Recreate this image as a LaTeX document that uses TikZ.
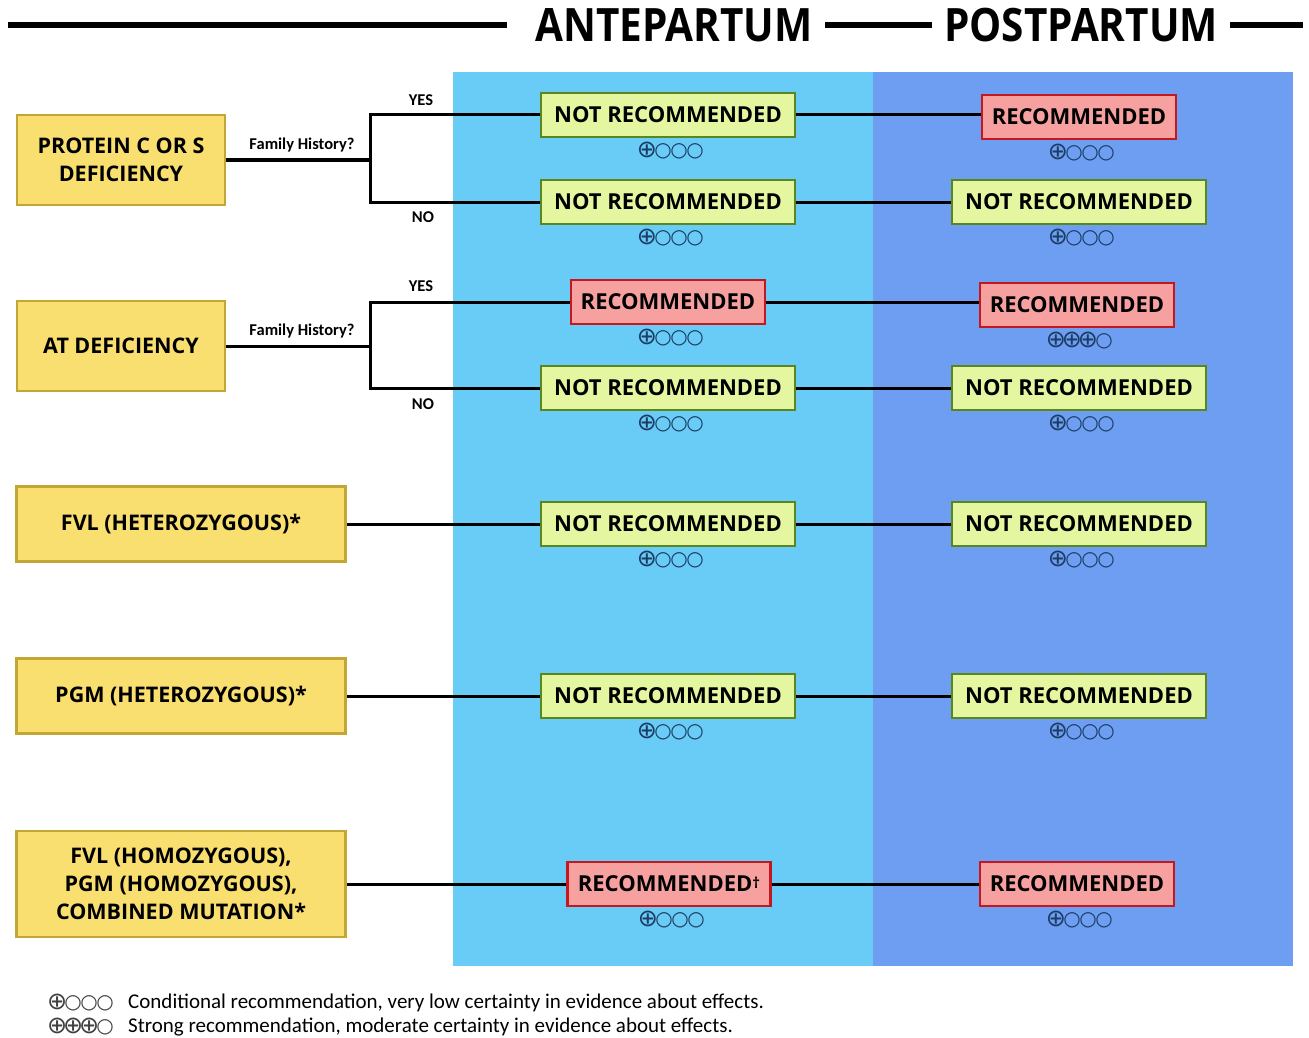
\documentclass[tikz,border=0pt]{standalone}
\usepackage{fontspec}
\setmainfont{Carlito}
\newfontfamily\labelfont{Open Sans}
\newfontfamily\symfont{DejaVu Sans}
\usetikzlibrary{positioning}

\definecolor{antefill}{RGB}{104,204,246}
\definecolor{postfill}{RGB}{110,158,242}
\definecolor{yfill}{RGB}{249,222,112}
\definecolor{yborder}{RGB}{196,166,52}
\definecolor{gfill}{RGB}{228,247,160}
\definecolor{gborder}{RGB}{90,134,30}
\definecolor{rfill}{RGB}{246,160,160}
\definecolor{rborder}{RGB}{196,24,32}
\definecolor{gradeblue}{RGB}{28,60,100}

% grade glyphs
\newcommand{\gplus}{\makebox[16pt][c]{\raisebox{-1pt}{\fontsize{24}{20}\selectfont ⊕}}}
\newcommand{\gnone}{\makebox[16pt][c]{\fontsize{20}{20}\selectfont ○}}

\begin{document}
\begin{tikzpicture}[x=1pt,y=-1pt,
    cond/.style={draw=yborder,fill=yfill,line width=2.5pt,align=center,inner sep=0pt,
      font=\labelfont\bfseries\fontsize{21.5}{28}\selectfont},
    notrec/.style={draw=gborder,fill=gfill,line width=2.5pt,inner sep=0pt,
      minimum width=254,minimum height=44,font=\labelfont\bfseries\fontsize{22}{21}\selectfont},
    rec/.style={draw=rborder,fill=rfill,line width=2.5pt,inner sep=0pt,
      minimum width=194,minimum height=44,font=\labelfont\bfseries\fontsize{22}{21}\selectfont},
    grade/.style={text=gradeblue,inner sep=0pt,font=\symfont},
    link/.style={line width=3pt,black},
    ask/.style={inner sep=0pt,font=\bfseries\fontsize{16.5}{16}\selectfont},
    head/.style={inner sep=12pt,font=\labelfont\bfseries\fontsize{46}{46}\selectfont}]
  \useasboundingbox (0,0) rectangle (1309,1038);
  % columns
  \fill[antefill] (453,72) rectangle (873,966);
  \fill[postfill] (873,72) rectangle (1293,966);
  % header
  \node[head] (ante) at (674,25) {\scalebox{0.88}[1]{ANTEPARTUM}};
  \node[head] (post) at (1081,25) {\scalebox{0.88}[1]{POSTPARTUM}};
  \coordinate (hl) at (8,25);
  \coordinate (hr) at (1303,25);
  \draw[line width=6pt] (hl) -- ([xshift=-16pt]ante.west);
  \draw[line width=6pt] (ante.east) -- (post.west);
  \draw[line width=6pt] (post.east) -- (hr);

  % conditions
  \node[cond,minimum width=208,minimum height=90] (pcs) at (121,160) {PROTEIN C OR S\\DEFICIENCY};
  \node[cond,minimum width=208,minimum height=90] (atd) at (121,346) {AT DEFICIENCY};
  \node[cond,minimum width=329,minimum height=75] (fvlhet) at (181,524) {FVL (HETEROZYGOUS)*};
  \node[cond,minimum width=329,minimum height=75] (pgmhet) at (181,696) {PGM (HETEROZYGOUS)*};
  \node[cond,minimum width=329,minimum height=106] (homo) at (181,884) {FVL (HOMOZYGOUS),\\PGM (HOMOZYGOUS),\\COMBINED MUTATION*};

  % antepartum
  \node[notrec] (a1) at (668,115) {NOT RECOMMENDED};
  \node[notrec] (a2) at (668,202) {NOT RECOMMENDED};
  \node[rec] (a3) at (668,302) {RECOMMENDED};
  \node[notrec] (a4) at (668,388) {NOT RECOMMENDED};
  \node[notrec] (a5) at (668,524) {NOT RECOMMENDED};
  \node[notrec] (a6) at (668,696) {NOT RECOMMENDED};
  \node[rec,minimum width=203] (a7) at (669,884) {RECOMMENDED\raisebox{0.3ex}{\fontsize{15}{15}\selectfont†}};

  % postpartum
  \node[rec] (p1) at (1079,117) {RECOMMENDED};
  \node[notrec] (p2) at (1079,202) {NOT RECOMMENDED};
  \node[rec] (p3) at (1077,305) {RECOMMENDED};
  \node[notrec] (p4) at (1079,388) {NOT RECOMMENDED};
  \node[notrec] (p5) at (1079,524) {NOT RECOMMENDED};
  \node[notrec] (p6) at (1079,696) {NOT RECOMMENDED};
  \node[rec] (p7) at (1077,884) {RECOMMENDED};

  % grades
  \foreach \n in {a1,a2,a3,a4,a5,a6,a7,p1,p2,p4,p5,p6,p7}
    \node[grade,below=4pt of \n,xshift=3pt] (g\n) {\gplus\gnone\gnone\gnone};
  \node[grade,below=4pt of p3,xshift=3pt] (gp3) {\gplus\gplus\gplus\gnone};

  % family history forks
  \coordinate (f1) at (370,160);
  \coordinate (f2) at (370,346);
  \draw[link] (pcs.east) -- (f1);
  \draw[link] (a1.west) -| (f1) |- (a2.west);
  \draw[link] (atd.east) -- (f2);
  \draw[link] (a3.west) -| (f2) |- (a4.west);
  \node[ask] (fh1) at (302,145) {Family History?};
  \node[ask] (fh2) at (302,331) {Family History?};
  \node[ask] (yes1) at (421,100) {YES};
  \node[ask] (no1) at (423,217) {NO};
  \node[ask] (yes2) at (421,286) {YES};
  \node[ask] (no2) at (423,404) {NO};

  % straight links
  \draw[link] (fvlhet.east) -- (a5.west);
  \draw[link] (pgmhet.east) -- (a6.west);
  \draw[link] (homo.east) -- (a7.west);
  \foreach \i in {1,...,7}
    \draw[link] (a\i.east) -- (a\i.east -| p\i.west);

  % key
  \node[grade,text=black!75,anchor=west] (k1) at (49,1003) {\gplus\gnone\gnone\gnone};
  \node[grade,text=black!75,anchor=west] (k2) at (49,1027) {\gplus\gplus\gplus\gnone};
  \node[anchor=west,inner sep=0pt,font=\fontsize{21}{21}\selectfont] (kt1) at (128,1003) {Conditional recommendation, very low certainty in evidence about effects.};
  \node[anchor=west,inner sep=0pt,font=\fontsize{21}{21}\selectfont] (kt2) at (128,1027) {Strong recommendation, moderate certainty in evidence about effects.};
\end{tikzpicture}
\end{document}
